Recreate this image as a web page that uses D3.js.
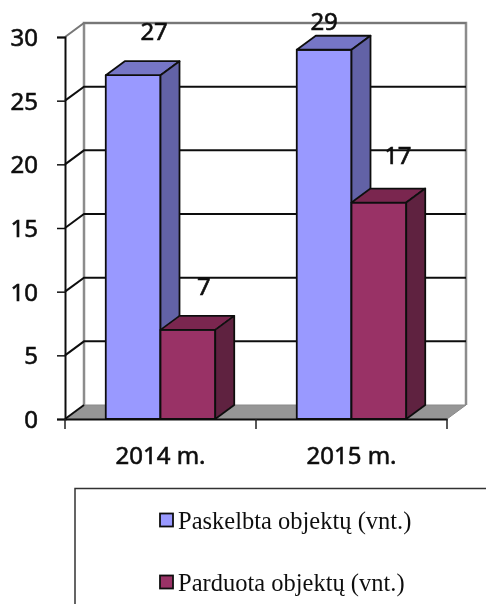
<!DOCTYPE html>
<html>
<head>
<meta charset="utf-8">
<script src="https://cdn.jsdelivr.net/npm/d3@7"></script>
<style>
  html, body { margin: 0; padding: 0; background: #fff; overflow: hidden; }
  svg { display: block; }
</style>
</head>
<body>
<div id="chart"></div>
<script>
  const categories = ['2014 m.', '2015 m.'];
  const seriesNames = ['Paskelbta objektų (vnt.)', 'Parduota objektų (vnt.)'];
  const published = [27, 29];
  const sold = [7, 17];
  const yTicks = [0, 5, 10, 15, 20, 25, 30];

  const width = 486;
  const height = 604;
  const plotLeft = 65;
  const plotRight = 447;
  const plotBottom = 419;
  const plotTop = 37;
  const depthX = 19;
  const depthY = -14;

  const colors = [
    { front: '#9999ff', top: '#7676c6', side: '#6262a6' },
    { front: '#993366', top: '#7a2850', side: '#5f2140' }
  ];
  // the original labels were dragged around by hand, so nudge them per bar
  const labelNudge = [[[21, -35], [16, -35]], [[0, -20], [19, -39]]];

  const svg = d3.select('#chart').append('svg')
    .attr('width', width)
    .attr('height', height);

  // The source picture is a soft scan, a slight blur gets the same look
  svg.append('defs').append('filter')
    .attr('id', 'soft')
    .append('feGaussianBlur')
    .attr('stdDeviation', 0.45);

  const root = svg.append('g').attr('filter', 'url(#soft)');

  root.append('rect')
    .attr('width', width)
    .attr('height', height)
    .attr('fill', '#fff');

  const y = d3.scaleLinear().domain([0, 30]).range([plotBottom, plotTop]);
  const x0 = d3.scaleBand().domain(categories).range([plotLeft, plotRight]);
  const x1 = d3.scaleBand().domain(seriesNames).range([0, x0.bandwidth()]).paddingOuter(0.745);

  // Noto Sans has no medium weight here, so thicken the regular with a thin stroke
  const styleSansText = function (sel) {
    sel.attr('fill', '#111')
      .attr('stroke', '#111')
      .attr('stroke-width', 0.6)
      .style('font-family', '"Noto Sans", sans-serif')
      .style('font-size', '24px');
  };

  // Floor
  root.append('path')
    .attr('d', `M${plotLeft},${plotBottom}L${plotLeft + depthX},${plotBottom + depthY}L${plotRight + depthX},${plotBottom + depthY}L${plotRight},${plotBottom}Z`)
    .attr('fill', '#969696')
    .attr('stroke', '#8a8a8a');

  // Back wall frame
  root.append('path')
    .attr('d', `M${plotLeft + depthX},${plotBottom + depthY}V${plotTop + depthY}H${plotRight + depthX}V${plotBottom + depthY}`)
    .attr('fill', 'none')
    .attr('stroke', '#8c8c8c')
    .attr('stroke-width', 2.5);

  // Grid lines, side wall + back wall
  root.append('g').selectAll('path')
    .data(yTicks)
    .enter()
    .append('path')
    .attr('d', function (d) {
      const py = y(d);
      if (d === 0) return `M${plotLeft},${py}L${plotLeft + depthX},${py + depthY}`;
      return `M${plotLeft},${py}L${plotLeft + depthX},${py + depthY}H${plotRight + depthX}`;
    })
    .attr('fill', 'none')
    .attr('stroke', function (d) { return d === 30 ? '#777' : '#111'; })
    .attr('stroke-width', 2);

  // Axes
  const yAxis = root.append('g')
    .attr('transform', `translate(${plotLeft},0)`)
    .call(d3.axisLeft(y).tickValues(yTicks).tickSize(8).tickPadding(19));

  const xAxis = root.append('g')
    .attr('transform', `translate(0,${plotBottom})`)
    .call(d3.axisBottom(x0).tickSize(0).tickPadding(28));

  xAxis.selectAll('.cat-tick')
    .data(d3.range(categories.length + 1))
    .enter()
    .append('line')
    .attr('x1', function (d) { return plotLeft + d * x0.step(); })
    .attr('x2', function (d) { return plotLeft + d * x0.step(); })
    .attr('y1', 0)
    .attr('y2', 10)
    .attr('stroke', '#222')
    .attr('stroke-width', 1.5);

  [yAxis, xAxis].forEach(function (axis) {
    axis.selectAll('path.domain').attr('stroke', '#111').attr('stroke-width', 2);
    axis.selectAll('.tick line').attr('stroke', '#111').attr('stroke-width', 1.5);
    axis.selectAll('text').call(styleSansText);
  });
  yAxis.selectAll('text').attr('dy', '0.36em');

  // 3D boxes
  const drawBox = function (g, bx, value, c) {
    const w = x1.bandwidth();
    const py = y(value);
    g.append('rect')
      .attr('x', bx).attr('y', py)
      .attr('width', w).attr('height', plotBottom - py)
      .attr('fill', c.front);
    g.append('path')
      .attr('d', `M${bx},${py}l${depthX},${depthY}h${w}l${-depthX},${-depthY}Z`)
      .attr('fill', c.top);
    g.append('path')
      .attr('d', `M${bx + w},${py}l${depthX},${depthY}V${plotBottom + depthY}l${-depthX},${-depthY}Z`)
      .attr('fill', c.side);
    g.selectAll('*')
      .attr('stroke', '#111')
      .attr('stroke-width', 1.8)
      .attr('stroke-linejoin', 'round');
  };

  categories.forEach(function (cat, i) {
    [published[i], sold[i]].forEach(function (value, s) {
      const bx = x0(cat) + x1(seriesNames[s]);
      const g = root.append('g').attr('class', 'box');
      drawBox(g, bx, value, colors[s]);
    });
  });

  // Value labels go on top of every box
  categories.forEach(function (cat, i) {
    [published[i], sold[i]].forEach(function (value, s) {
      const bx = x0(cat) + x1(seriesNames[s]);
      root.append('text')
        .attr('x', bx + x1.bandwidth() / 2 + labelNudge[i][s][0])
        .attr('y', y(value) + labelNudge[i][s][1])
        .attr('text-anchor', 'middle')
        .call(styleSansText)
        .text(value);
    });
  });

  // Legend box, runs off the right and bottom of the picture
  root.append('path')
    .attr('d', `M75,${height + 2}V488.5H${width + 2}`)
    .attr('fill', 'none')
    .attr('stroke', '#333')
    .attr('stroke-width', 1.5);

  const legend = root.append('g').attr('transform', 'translate(160,0)');
  const legendY = d3.scalePoint().domain(seriesNames).range([520, 582]);
  seriesNames.forEach(function (name, s) {
    legend.append('rect')
      .attr('x', 0)
      .attr('y', legendY(name) - 6.5)
      .attr('width', 13)
      .attr('height', 13)
      .attr('fill', colors[s].front)
      .attr('stroke', '#111')
      .attr('stroke-width', 1.8);
    legend.append('text')
      .attr('x', 18)
      .attr('y', legendY(name) + 9)
      .attr('fill', '#111')
      .style('font-family', '"Liberation Serif", serif')
      .style('font-size', '24.5px')
      .text(name);
  });
</script>
</body>
</html>
